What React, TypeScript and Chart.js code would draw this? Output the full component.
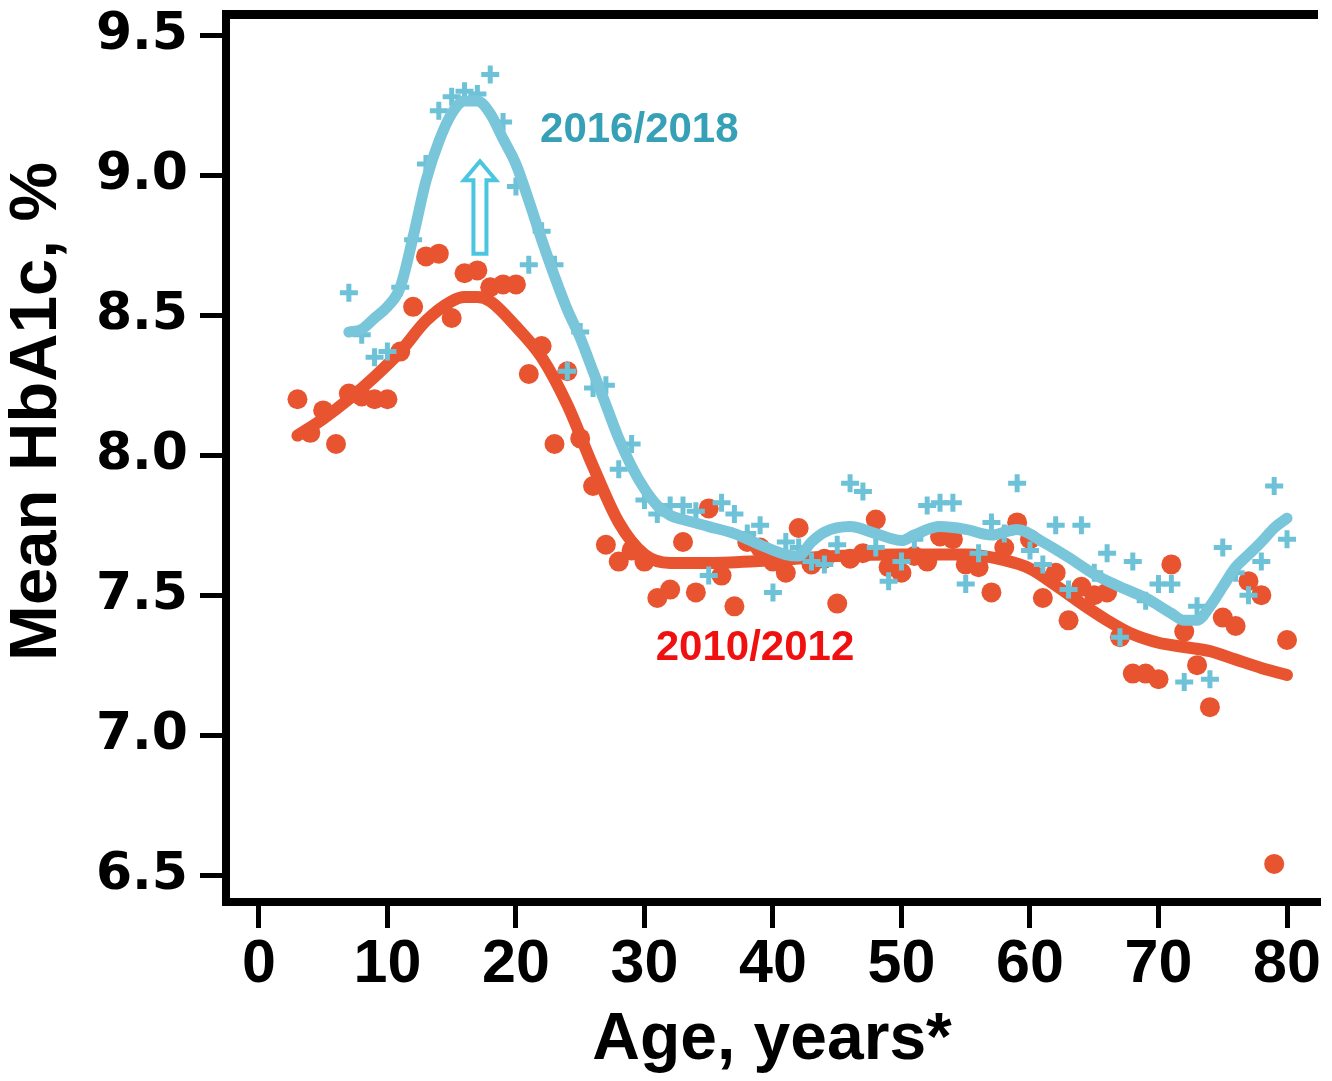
import React, { useEffect, useRef } from 'react';
import { Chart, registerables } from 'chart.js';

Chart.register(...registerables);

// ---- Data ----
const X_TICKS = [0, 10, 20, 30, 40, 50, 60, 70, 80];
const Y_TICKS = [6.5, 7.0, 7.5, 8.0, 8.5, 9.0, 9.5];

// 2010/2012 — mean HbA1c by single year of age (dots)
const redAges = [
  3, 4, 5, 6, 7, 8, 9, 10, 11, 12, 13, 14, 15, 16, 17, 18, 19, 20,
  21, 22, 23, 24, 25, 26, 27, 28, 29, 30, 31, 32, 33, 34, 35, 36, 37, 38, 39, 40,
  41, 42, 43, 44, 45, 46, 47, 48, 49, 50, 51, 52, 53, 54, 55, 56, 57, 58, 59, 60,
  61, 62, 63, 64, 65, 66, 67, 68, 69, 70, 71, 72, 73, 74, 75, 76, 77, 78, 79, 80,
];
const redValues = [
  8.20, 8.08, 8.16, 8.04, 8.22, 8.21, 8.20, 8.20, 8.37, 8.53, 8.71, 8.72, 8.49, 8.65, 8.66, 8.60, 8.61, 8.61,
  8.29, 8.39, 8.04, 8.30, 8.06, 7.89, 7.68, 7.62, 7.66, 7.62, 7.49, 7.52, 7.69, 7.51, 7.81, 7.57, 7.46, 7.69, 7.67, 7.62,
  7.58, 7.74, 7.61, 7.63, 7.47, 7.63, 7.65, 7.77, 7.60, 7.58, 7.64, 7.62, 7.71, 7.70, 7.61, 7.60, 7.51, 7.67, 7.76, 7.70,
  7.49, 7.58, 7.41, 7.53, 7.50, 7.51, 7.35, 7.22, 7.22, 7.20, 7.61, 7.37, 7.25, 7.10, 7.42, 7.39, 7.55, 7.50, 6.54, 7.34,
];

// 2016/2018 — mean HbA1c by single year of age (crosses)
const cyanAges = [
  7, 8, 9, 10, 11, 12, 13, 14, 15, 16, 17, 18, 19, 20,
  21, 22, 23, 24, 25, 26, 27, 28, 29, 30, 31, 32, 33, 34, 35, 36, 37, 38, 39, 40,
  41, 42, 43, 44, 45, 46, 47, 48, 49, 50, 51, 52, 53, 54, 55, 56, 57, 58, 59, 60,
  61, 62, 63, 64, 65, 66, 67, 68, 69, 70, 71, 72, 73, 74, 75, 76, 77, 78, 79, 80,
];
const cyanValues = [
  8.58, 8.43, 8.35, 8.37, 8.60, 8.77, 9.04, 9.23, 9.28, 9.30, 9.29, 9.36, 9.19, 8.96,
  8.68, 8.80, 8.68, 8.30, 8.44, 8.24, 8.25, 7.95, 8.04, 7.84, 7.79, 7.82, 7.82, 7.80, 7.57, 7.83, 7.79, 7.72, 7.75, 7.51,
  7.69, 7.67, 7.62, 7.61, 7.68, 7.90, 7.87, 7.67, 7.55, 7.62, 7.70, 7.82, 7.83, 7.83, 7.54, 7.65, 7.76, 7.72, 7.90, 7.66,
  7.61, 7.75, 7.52, 7.75, 7.58, 7.65, 7.35, 7.62, 7.48, 7.54, 7.54, 7.19, 7.46, 7.20, 7.67, 7.58, 7.50, 7.62, 7.89, 7.70,
];

// Smoothed trend curves
const redCurveAges = [3, 5, 7, 9, 11, 13, 15, 16, 17, 18, 20, 22, 24, 26, 28, 30, 32, 35, 40, 45, 50, 55, 58, 60, 62, 64, 66, 68, 70, 72, 74, 76, 78, 80];
const redCurveValues = [8.07, 8.13, 8.20, 8.28, 8.37, 8.48, 8.55, 8.565, 8.565, 8.55, 8.46, 8.35, 8.18, 7.96, 7.76, 7.645, 7.615, 7.615, 7.625, 7.64, 7.645, 7.645, 7.625, 7.595, 7.535, 7.47, 7.41, 7.36, 7.33, 7.315, 7.30, 7.27, 7.24, 7.215];

const cyanCurveAges = [7, 8, 9, 10, 11, 12, 13, 14, 15, 16, 17, 18, 19, 20, 21, 22, 23, 24, 25, 26, 27, 28, 29, 30, 31, 32, 33, 35, 37, 39, 41, 42, 43, 44, 46, 48, 50, 51, 53, 55, 57, 59, 61, 63, 65, 67, 69, 71, 72, 73, 74, 75, 76, 77, 78, 79, 80];
const cyanCurveValues = [8.44, 8.45, 8.49, 8.53, 8.60, 8.78, 8.98, 9.12, 9.22, 9.265, 9.265, 9.22, 9.13, 9.04, 8.91, 8.77, 8.64, 8.52, 8.42, 8.30, 8.18, 8.06, 7.96, 7.88, 7.82, 7.785, 7.77, 7.745, 7.72, 7.68, 7.645, 7.64, 7.69, 7.725, 7.745, 7.72, 7.695, 7.715, 7.745, 7.735, 7.715, 7.735, 7.69, 7.635, 7.575, 7.53, 7.49, 7.435, 7.41, 7.41, 7.46, 7.53, 7.60, 7.645, 7.69, 7.74, 7.775];

// Axis range
const X_MIN = -2.56;
const X_MAX = 82.41;
const Y_MIN = 6.404;
const Y_MAX = 9.576;

// Annotations (data coordinates)
const LABELS = [
  { text: '2016/2018', age: 29.6, value: 9.16, color: '#35A0B6' },
  { text: '2010/2012', age: 38.6, value: 7.31, color: '#F01010' },
];
const ARROW = { age: 17.2, tip: 9.05, base: 8.72 };

// Colours
const RED = '#E8542F';
const CYAN_LINE = '#79C5D9';
const CYAN_PTS = '#6EC2D8';
const ARROW_COLOR = '#4CC6E0';

const pts = (xs: number[], ys: number[]) => xs.map((x, i) => ({ x, y: ys[i] }));

const annotationPlugin = {
  id: 'hbaAnnotations',
  afterDatasetsDraw(chart: any) {
    const { ctx, scales } = chart;
    const x = scales.x;
    const y = scales.y;
    ctx.save();
    ctx.font = 'bold 42px "Liberation Sans", Arial, sans-serif';
    ctx.textAlign = 'center';
    ctx.textBaseline = 'middle';
    for (const lab of LABELS) {
      ctx.fillStyle = lab.color;
      ctx.fillText(lab.text, x.getPixelForValue(lab.age), y.getPixelForValue(lab.value));
    }
    const ax = x.getPixelForValue(ARROW.age);
    const tipY = y.getPixelForValue(ARROW.tip);
    const baseY = y.getPixelForValue(ARROW.base);
    const hw = 16;
    const sw = 6.5;
    const hh = 19;
    ctx.beginPath();
    ctx.moveTo(ax, tipY);
    ctx.lineTo(ax + hw, tipY + hh);
    ctx.lineTo(ax + sw, tipY + hh);
    ctx.lineTo(ax + sw, baseY);
    ctx.lineTo(ax - sw, baseY);
    ctx.lineTo(ax - sw, tipY + hh);
    ctx.lineTo(ax - hw, tipY + hh);
    ctx.closePath();
    ctx.fillStyle = '#ffffff';
    ctx.fill();
    ctx.lineWidth = 4;
    ctx.lineJoin = 'miter';
    ctx.strokeStyle = ARROW_COLOR;
    ctx.stroke();
    ctx.restore();
  },
};

const noScalePadding = (s: any) => {
  s.paddingTop = 0;
  s.paddingBottom = 0;
  s.paddingLeft = 0;
  s.paddingRight = 0;
};

export default function App() {
  const ref = useRef<HTMLCanvasElement>(null);

  useEffect(() => {
    if (!ref.current) return;
    const axisGrid = {
      drawOnChartArea: false,
      drawTicks: true,
      tickLength: 26,
      lineWidth: 5,
      color: '#000',
    };
    const chart = new Chart(ref.current, {
      type: 'scatter',
      data: {
        datasets: [
          {
            label: '2016/2018 trend',
            data: pts(cyanCurveAges, cyanCurveValues),
            showLine: true,
            borderColor: CYAN_LINE,
            borderWidth: 11,
            pointRadius: 0,
            cubicInterpolationMode: 'monotone',
            borderCapStyle: 'round',
            borderJoinStyle: 'round',
            order: 1,
          },
          {
            label: '2016/2018',
            data: pts(cyanAges, cyanValues),
            pointStyle: 'cross',
            pointRadius: 9,
            borderWidth: 5,
            borderColor: CYAN_PTS,
            backgroundColor: CYAN_PTS,
            order: 2,
          },
          {
            label: '2010/2012 trend',
            data: pts(redCurveAges, redCurveValues),
            showLine: true,
            borderColor: RED,
            borderWidth: 12,
            pointRadius: 0,
            cubicInterpolationMode: 'monotone',
            borderCapStyle: 'round',
            borderJoinStyle: 'round',
            order: 3,
          },
          {
            label: '2010/2012',
            data: pts(redAges, redValues),
            pointStyle: 'circle',
            pointRadius: 10,
            borderWidth: 0,
            backgroundColor: RED,
            order: 4,
          },
        ],
      },
      options: {
        responsive: false,
        animation: false,
        devicePixelRatio: 1,
        layout: { padding: { top: 8, right: 12, bottom: 0, left: 0 } },
        plugins: { legend: { display: false }, tooltip: { enabled: false } },
        scales: {
          x: {
            type: 'linear',
            position: 'bottom',
            min: X_MIN,
            max: X_MAX,
            afterFit: (s: any) => { s.height = 179; noScalePadding(s); },
            afterBuildTicks: (s: any) => { s.ticks = X_TICKS.map((v) => ({ value: v })); },
            grid: axisGrid,
            border: { display: true, width: 8, color: '#000' },
            ticks: {
              autoSkip: false,
              maxRotation: 0,
              padding: 1,
              color: '#000',
              font: { family: '"Liberation Sans", Arial, sans-serif', weight: 'bold', size: 61, lineHeight: 1.2 },
              callback: (v: any) => String(v),
            },
            title: {
              display: true,
              text: 'Age, years*',
              color: '#000',
              font: { family: '"Liberation Sans", Arial, sans-serif', weight: 'bold', size: 66, lineHeight: 1 },
              padding: { top: 0, bottom: 7 },
            },
          },
          xTop: {
            type: 'linear',
            position: 'top',
            min: X_MIN,
            max: X_MAX,
            afterFit: (s: any) => { s.height = 0; noScalePadding(s); },
            grid: { drawOnChartArea: false, drawTicks: false, lineWidth: 0 },
            border: { display: true, width: 9, color: '#000' },
            ticks: { display: false },
          },
          y: {
            type: 'linear',
            position: 'left',
            min: Y_MIN,
            max: Y_MAX,
            afterFit: (s: any) => { s.width = 226; noScalePadding(s); },
            afterBuildTicks: (s: any) => { s.ticks = Y_TICKS.map((v) => ({ value: v })); },
            grid: axisGrid,
            border: { display: true, width: 8, color: '#000' },
            ticks: {
              padding: 12,
              color: '#000',
              font: { family: '"DejaVu Sans", sans-serif', weight: 'bold', size: 52, lineHeight: 1.2 },
              callback: (v: any) => Number(v).toFixed(1),
            },
            title: {
              display: true,
              text: '\u00a0\u00a0\u00a0\u00a0\u00a0Mean HbA1c, %',
              color: '#000',
              font: { family: '"Liberation Sans", Arial, sans-serif', weight: 'bold', size: 67, lineHeight: 1 },
              padding: { top: 4, bottom: 0 },
            },
          },
        },
      },
      plugins: [annotationPlugin],
    } as any);
    return () => chart.destroy();
  }, []);

  return (
    <div style={{ position: 'absolute', left: 0, top: 0, width: 1332, height: 1081, background: '#fff' }}>
      <canvas ref={ref} width={1332} height={1081} style={{ display: 'block', width: 1332, height: 1081 }} />
    </div>
  );
}
